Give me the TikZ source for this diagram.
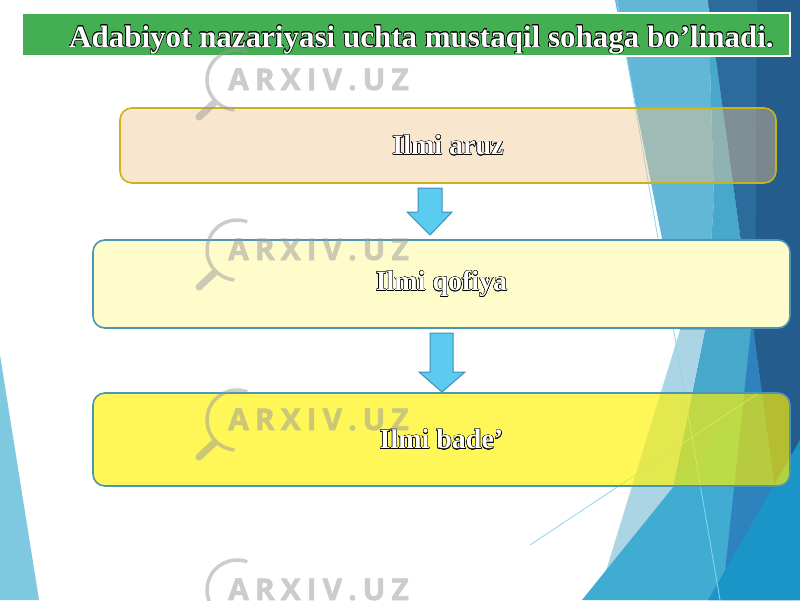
\documentclass[tikz,border=0pt]{standalone}
\usepackage{fontspec}
\setmainfont{Liberation Serif}
\newfontfamily\wmfont{Open Sans}[BoldFeatures={FakeBold=2}]
\usepackage{contour}
\contourlength{0.45pt}
\contournumber{16}
\definecolor{titlegreen}{HTML}{43AE52}
\definecolor{lband}{HTML}{62B6D6}
\definecolor{mband}{HTML}{48A8CC}
\definecolor{ltri}{HTML}{ABD5E4}
\definecolor{bigtri}{HTML}{40ACD2}
\definecolor{darkblue}{HTML}{245C8E}
\definecolor{stripe}{HTML}{2B6C9C}
\definecolor{sliver}{HTML}{2E82BE}
\definecolor{bright}{HTML}{1B95C8}
\definecolor{lefttri}{HTML}{7EC8E0}
\definecolor{thinline}{HTML}{8AD6F2}
\definecolor{peach}{HTML}{F1C48C}
\definecolor{goldline}{HTML}{C8B418}
\definecolor{cream}{HTML}{FFFCCC}
\definecolor{tealline}{HTML}{4A96B4}
\definecolor{arrowfill}{HTML}{5BCBF0}
\definecolor{arrowline}{HTML}{3D8EB8}
\definecolor{wmgray}{HTML}{9A9A9A}
\newcommand{\outl}[1]{{\color{white}\contour{black}{#1}}}
\newcommand{\wmtext}{A\kern6pt R\kern6pt X\kern6pt I\kern6pt V\kern6pt .\kern6pt U\kern6pt Z}
\begin{document}
\begin{tikzpicture}[x=1pt,y=-1pt,
  boxbase/.style={rectangle, rounded corners=12pt, line width=1.6pt, inner sep=0pt, text opacity=1,
    font=\fontsize{28}{30}\selectfont\bfseries},
  boxone/.style={boxbase, draw=goldline, fill=peach, fill opacity=0.42, minimum width=656pt, minimum height=75pt},
  boxtwo/.style={boxbase, draw=tealline, fill=cream, minimum width=697pt, minimum height=88pt},
  boxthree/.style={boxbase, draw=tealline, fill=yellow, fill opacity=0.66, minimum width=697pt, minimum height=93pt},
  blockarrow/.style={fill=arrowfill, draw=arrowline, line width=1pt, line join=miter},
  titletext/.style={font=\fontsize{31}{33}\selectfont\bfseries, inner sep=0pt, anchor=base},
  wm/.style={text=wmgray, font=\wmfont\bfseries\fontsize{30}{32}\selectfont, inner sep=0pt, anchor=base west},
  wmring/.style={draw=wmgray, line width=3.5pt},
  wmhandle/.style={draw=wmgray, line width=7pt, line cap=round}
]
\useasboundingbox (0,0) rectangle (800,600);
\fill[white] (0,0) rectangle (800,600);
% background facets
\fill[lband] (615,0) -- (708,0) -- (714,200) -- (705,330) -- (680,330) -- cycle;
\fill[mband] (708,0) -- (790,600) -- (650,600) -- (705,330) -- (714,200) -- cycle;
\fill[ltri] (680,330) -- (705,330) -- (650,600) -- (597,600) -- cycle;
\fill[bigtri] (582,600) -- (800,330) -- (800,600) -- cycle;
\fill[darkblue] (708,0) -- (800,0) -- (800,600) -- (790,600) -- cycle;
\fill[stripe] (708,0) -- (757,0) -- (755,340) -- cycle;
\fill[sliver] (752,320) -- (790,600) -- (722,600) -- cycle;
\fill[bright] (708,600) -- (800,440) -- (800,600) -- cycle;
\fill[lefttri] (0,355) -- (39,600) -- (0,600) -- cycle;
\draw[thinline, line width=0.8pt] (617,0) -- (720,600);
\draw[thinline, line width=0.8pt] (530,545) -- (760,392);
% title
\draw[draw=white, line width=2pt, fill=titlegreen] (22,13) rectangle (790,56);
\node[titletext] (title) at (421.5,47) {\outl{Adabiyot nazariyasi uchta mustaqil sohaga bo’linadi.}};
% boxes
\node[boxone] (aruz) at (448,145.5) {\outl{Ilmi aruz}};
\node[boxtwo] (qofiya) at (441.5,284) {\outl{Ilmi qofiya}};
\node[boxthree] (bade) at (441.5,439.5) {\outl{Ilmi bade’}};
% block arrows
\draw[blockarrow] (418,188) -- (442,188) -- (442,212) -- (452,212) -- (430,235) -- (407,212) -- (418,212) -- cycle;
\draw[blockarrow] (430,333) -- (453,333) -- (453,372) -- (465,372) -- (442,392) -- (419,372) -- (430,372) -- cycle;
% watermarks
\foreach \cy/\by [count=\i] in {80/90, 250/260, 420/430, 590/600}{
  \begin{scope}[transparency group, opacity=0.5]
  \draw[wmring] (237,\cy) ++(-70:30) arc[start angle=-70, end angle=-265, radius=30];
  \draw[wmhandle] (214,\cy+23) -- (199,\cy+37);
  \node[wm] (wm\i) at (228,\by) {\wmtext};
  \end{scope}
}
\end{tikzpicture}
\end{document}
